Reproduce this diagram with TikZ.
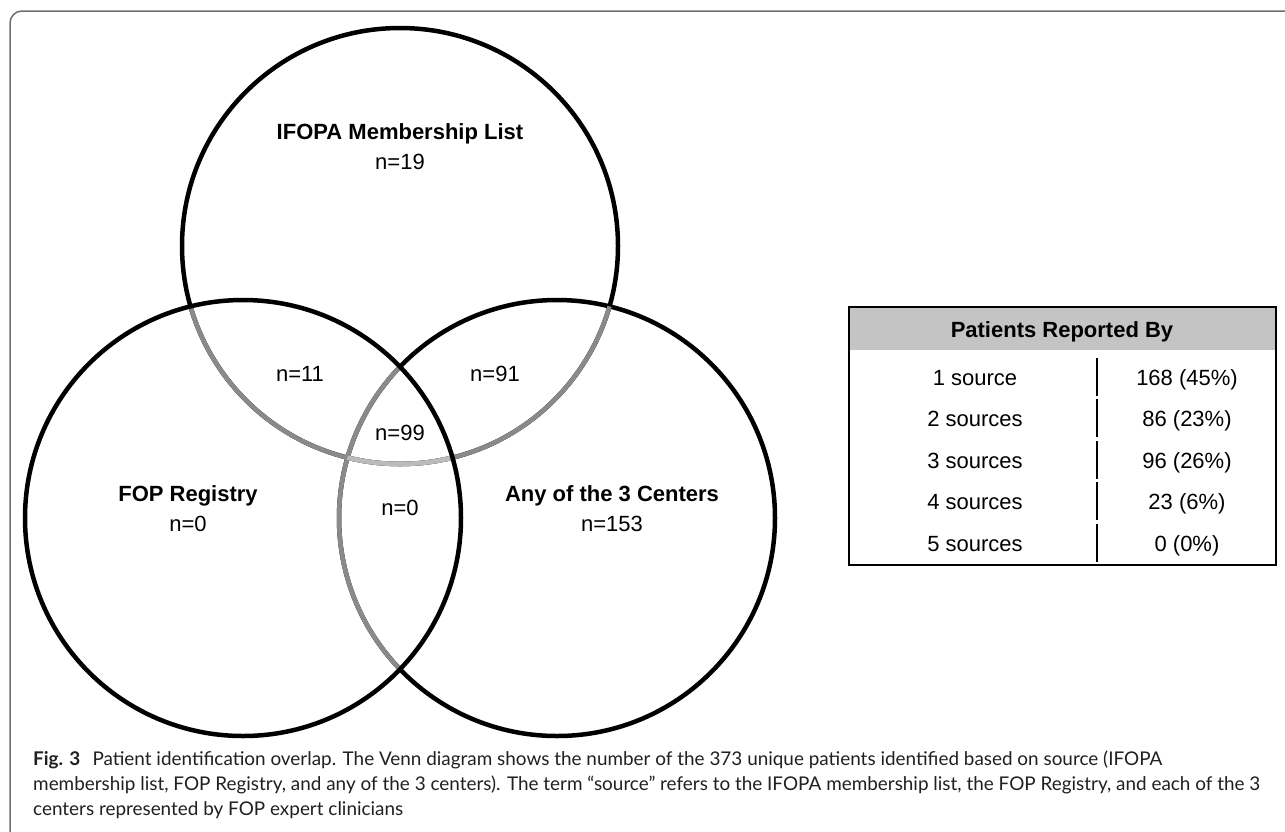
\documentclass[tikz,border=0pt]{standalone}
\usepackage{fontspec}
\setmainfont{Liberation Sans}
\newfontfamily\capfont{Lato}
\definecolor{midgrey}{HTML}{8A8A8A}
\definecolor{lightgrey}{HTML}{BBBBBB}
\definecolor{hdrgrey}{HTML}{C4C4C4}
\definecolor{framegrey}{HTML}{6E6E6E}
\definecolor{captext}{HTML}{231F20}
\begin{document}
\begin{tikzpicture}[x=1pt,y=-1pt,
  ring/.style={line width=4.5pt, draw=black},
  lbl/.style={font=\fontsize{22}{26}\selectfont, inner sep=0pt, text height=16pt, text depth=0pt},
  blbl/.style={font=\fontsize{22}{26}\selectfont\bfseries, inner sep=0pt, text height=16pt, text depth=0pt},
  captxt/.style={font=\capfont\fontsize{18.9}{24}\selectfont, text=captext, inner sep=0pt, anchor=base west},
  divseg/.style={line width=2pt, draw=black}]
\useasboundingbox (0,0) rectangle (1285,831);
\fill[white] (0,0) rectangle (1285,831);
% frame
\draw[framegrey, line width=1.5pt, rounded corners=12pt] (10,845) |- (1300,11);
% circle centres
\coordinate (T) at (400,246);
\coordinate (L) at (243,518);
\coordinate (R) at (557,518);
% circles
\draw[ring] (R) circle[radius=218pt];
\draw[ring] (T) circle[radius=218pt];
\begin{scope}
  \clip (L) circle[radius=218pt];
  \draw[ring, draw=midgrey] (R) circle[radius=218pt];
  \draw[ring, draw=midgrey] (T) circle[radius=218pt];
\end{scope}
\begin{scope}
  \clip (R) circle[radius=218pt];
  \draw[ring, draw=midgrey] (T) circle[radius=218pt];
\end{scope}
\begin{scope}
  \clip (L) circle[radius=218pt];
  \clip (R) circle[radius=218pt];
  \draw[ring, draw=lightgrey] (T) circle[radius=218pt];
\end{scope}
\draw[ring] (L) circle[radius=218pt];
% labels
\node[blbl] (ifopa) at (400,131) {IFOPA Membership List};
\node[lbl] (n19) at (400,161) {n=19};
\node[lbl] (n11) at (300,373) {n=11};
\node[lbl] (n91) at (495,373) {n=91};
\node[lbl] (n99) at (400,432) {n=99};
\node[blbl] (fop) at (188,493) {FOP Registry};
\node[lbl] (n0a) at (188,523) {n=0};
\node[lbl] (n0b) at (400,507) {n=0};
\node[blbl] (any) at (612,493) {Any of the 3 Centers};
\node[lbl] (n153) at (612,523) {n=153};
% table
\fill[hdrgrey] (849,307) rectangle (1276,350);
\draw[line width=2pt] (849,307) rectangle (1276,565);
\node[blbl] (hdr) at (1062,329) {Patients Reported By};
\node[lbl] (r1a) at (975,377) {1 source};
\node[lbl] (r1b) at (1187,377) {168 (45\%)};
\node[lbl] (r2a) at (975,418) {2 sources};
\node[lbl] (r2b) at (1187,418) {86 (23\%)};
\node[lbl] (r3a) at (975,460) {3 sources};
\node[lbl] (r3b) at (1187,460) {96 (26\%)};
\node[lbl] (r4a) at (975,501) {4 sources};
\node[lbl] (r4b) at (1187,501) {23 (6\%)};
\node[lbl] (r5a) at (975,543) {5 sources};
\node[lbl] (r5b) at (1187,543) {0 (0\%)};
\foreach \c in {377,418,460,501,543}{
  \draw[divseg] (1097,\c-19) -- (1097,\c+19);
}
% caption
\node[captxt] (cap1) at (33,765) {\textbf{Fig. 3}\hspace{0.65em}Patient identification overlap. The Venn diagram shows the number of the 373 unique patients identified based on source (IFOPA};
\node[captxt] (cap2) at (33,790) {membership list, FOP Registry, and any of the 3 centers). The term “source” refers to the IFOPA membership list, the FOP Registry, and each of the 3};
\node[captxt] (cap3) at (33,815) {centers represented by FOP expert clinicians};
\end{tikzpicture}
\end{document}
